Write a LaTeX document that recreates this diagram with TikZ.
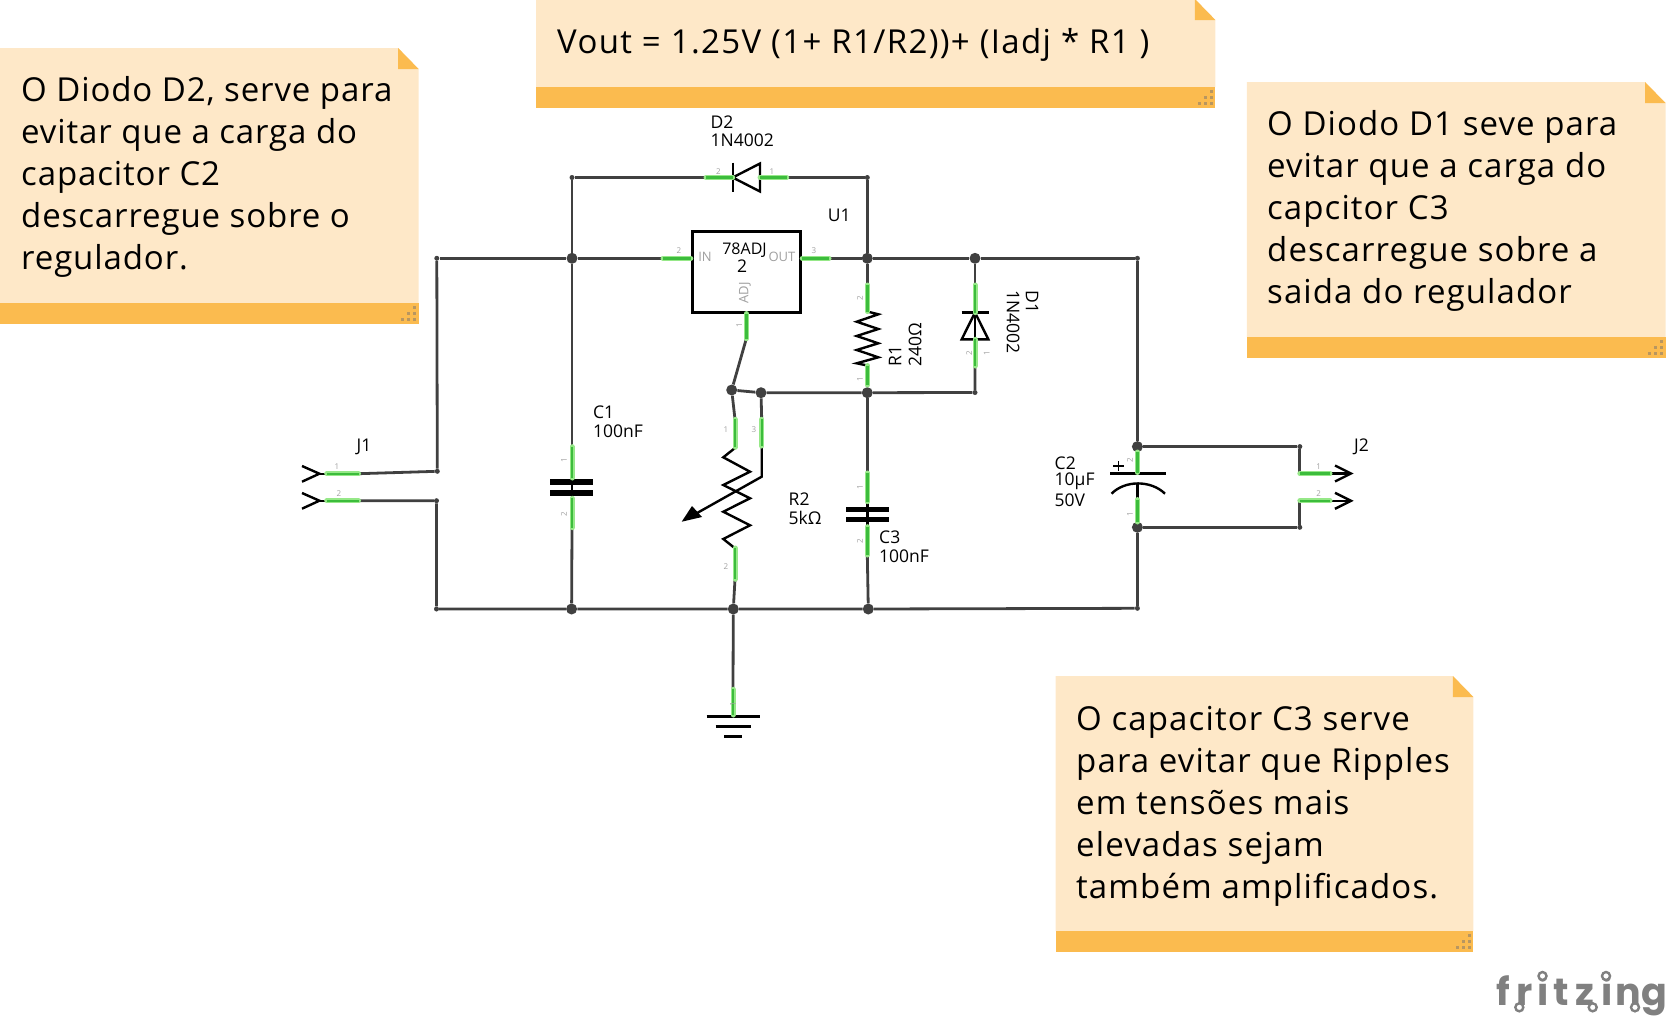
\documentclass[tikz,border=0pt]{standalone}
\usepackage{fontspec}
\setmainfont{Open Sans}
\newfontfamily\logofont{Poppins}
\definecolor{notefill}{HTML}{FEE8C8}
\definecolor{noteband}{HTML}{FBBB4F}
\definecolor{griptone}{HTML}{B89660}
\definecolor{wiretone}{HTML}{404040}
\definecolor{stubtone}{HTML}{3CBC3C}
\definecolor{stubglow}{HTML}{96E888}
\definecolor{pintone}{HTML}{A0A0A0}
\definecolor{logotone}{HTML}{808080}
\tikzset{
    notetext/.style={anchor=north west, inner sep=0pt, align=left, font=\fontsize{33}{42}\selectfont\addfontfeature{LetterSpace=#1}},
    partlabel/.style={anchor=west, inner sep=0pt, font=\fontsize{17.5}{18}\selectfont},
    pinlabel/.style={inner sep=0pt, text=pintone, font=\fontsize{8}{8}\selectfont},
    innerlabel/.style={inner sep=0pt, text=pintone, font=\fontsize{13}{13}\selectfont},
    wire/.style={draw=wiretone, line width=2.8pt},
    mainwire/.style={draw=wiretone, line width=3.4pt},
    stub/.style={draw=stubtone, line width=2.4pt, preaction={draw=stubglow, line width=5pt, line cap=round}},
    symbol/.style={draw=black, line width=2.4pt},
    plate/.style={draw=black, line width=5.4pt},
    junction/.style={circle, fill=wiretone, inner sep=0pt, minimum size=11pt},
    corner/.style={circle, fill=wiretone, inner sep=0pt, minimum size=5pt},
    logotext/.style={anchor=base west, inner sep=0pt, text=logotone, font=\logofont\bfseries\fontsize{38}{38}\selectfont},
    logoring/.style={circle, draw=logotone, fill=white, line width=2.4pt, inner sep=0pt, minimum size=8pt}
}
\newcommand{\stickynote}[5]{% left, top, right, bottom, band top
    \fill[notefill] (#1,#2) -- (#3-20.5,#2) -- (#3,#2+21) -- (#3,#5) -- (#1,#5) -- cycle;
    \fill[noteband] (#1,#5) rectangle (#3,#4);
    \fill[noteband] (#3-20.5,#2) -- (#3,#2+21) -- (#3-20.5,#2+21) -- cycle;
    \foreach \gx/\gy in {0/0,1/0,2/0,0/1,1/1,0/2} {
        \fill[griptone] (#3-5.8-\gx*6,#4-5.9-\gy*6) rectangle ++(3,3);
    }
}
\begin{document}
\begin{tikzpicture}[x=1pt, y=-1pt]
\useasboundingbox (0,0) rectangle (1668,1020);

% Notes
\stickynote{0}{48}{418.6}{323.7}{303}
\stickynote{536}{-1}{1215.4}{108}{87}
\stickynote{1246.8}{82}{1665.5}{357.7}{337}
\stickynote{1055.5}{676}{1473.4}{952}{931}

\node[notetext=2.7] (noteD2) at (21,76) {O Diodo D2, serve para\\evitar que a carga do\\capacitor C2\\descarregue sobre o\\regulador.};
\node[notetext=4.1, anchor=base west] (noteVout) at (557,53.3) {Vout = 1.25V (1+ R1/R2))+ (Iadj * R1 )};
\node[notetext=3.3] (noteD1) at (1267,110) {O Diodo D1 seve para\\evitar que a carga do\\capcitor C3\\descarregue sobre a\\saida do regulador};
\node[notetext=3.4] (noteC3) at (1076,706.5) {O capacitor C3 serve\\para evitar que Ripples\\em tensões mais\\elevadas sejam\\também amplificados.};

% Junctions
\node[junction] (inTop) at (572,258.3) {};
\node[junction] (outTop) at (867.3,258.3) {};
\node[junction] (diodeTop) at (975,258.3) {};
\node[junction] (adjLeft) at (731.7,390) {};
\node[junction] (adjRight) at (761,392.7) {};
\node[junction] (midNode) at (867.3,392.7) {};
\node[junction] (gndA) at (571.6,609) {};
\node[junction] (gndB) at (733.3,609) {};
\node[junction] (gndC) at (868.3,609) {};
\node[junction] (capTop) at (1137.4,446.6) {};
\node[junction] (capBot) at (1137.4,527.3) {};

% Corners
\node[corner] (cornerA) at (436.8,258.3) {};
\node[corner] (cornerB) at (437.3,471.3) {};
\node[corner] (cornerC) at (436.5,500.7) {};
\node[corner] (cornerD) at (436.5,609) {};
\node[corner] (cornerE) at (572,177.5) {};
\node[corner] (cornerF) at (867.3,177.5) {};
\node[corner] (cornerG) at (975,392.5) {};
\node[corner] (cornerH) at (1137.4,258.3) {};
\node[corner] (cornerI) at (1137.4,608.3) {};
\node[corner] (cornerJ) at (1299.8,446.6) {};
\node[corner] (cornerK) at (1299.8,527.3) {};

% Pin ends
\coordinate (j1a) at (358.5,473.7);
\coordinate (j1b) at (358.5,500.7);
\coordinate (j2a) at (1299.8,473.5);
\coordinate (j2b) at (1299.8,500.8);
\coordinate (d2a) at (706,177.5);
\coordinate (d2b) at (786.7,177.5);
\coordinate (u1in) at (663,258.3);
\coordinate (u1out) at (829,258.3);
\coordinate (u1adj) at (746.3,338.7);
\coordinate (r1top) at (867.3,285);
\coordinate (r1bot) at (867.3,365);
\coordinate (d1top) at (975,285);
\coordinate (d1bot) at (975,366);
\coordinate (c1top) at (572,446.7);
\coordinate (c1bot) at (572,527.7);
\coordinate (r2a) at (735,419.3);
\coordinate (r2c) at (761.7,419.3);
\coordinate (r2b) at (735,579.3);
\coordinate (c3top) at (867.3,473);
\coordinate (c3bot) at (867.3,555);
\coordinate (gndPin) at (733,689.3);

% Wires
\draw[mainwire] (cornerA) -- (inTop) -- (u1in);
\draw[mainwire] (u1out) -- (outTop) -- (diodeTop) -- (cornerH);
\draw[wire] (cornerA) -- (cornerB);
\draw[wire] (j1a) -- (cornerB);
\draw[wire] (j1b) -- (cornerC) -- (cornerD) -- (gndA) -- (gndB) -- (gndC) -- (cornerI);
\draw[wire] (inTop) -- (c1top);
\draw[wire] (c1bot) -- (gndA);
\draw[wire] (inTop) -- (cornerE) -- (d2a);
\draw[wire] (d2b) -- (cornerF) -- (outTop) -- (r1top);
\draw[wire] (diodeTop) -- (d1top);
\draw[wire] (u1adj) -- (adjLeft) -- (r2a);
\draw[wire] (adjLeft) -- (adjRight) -- (midNode) -- (cornerG) -- (d1bot);
\draw[wire] (adjRight) -- (r2c);
\draw[wire] (r1bot) -- (midNode) -- (c3top);
\draw[wire] (c3bot) -- (gndC);
\draw[wire] (r2b) -- (gndB) -- (gndPin);
\draw[wire] (cornerH) -- (capTop) -- (cornerJ) -- (j2a);
\draw[wire] (cornerI) -- (capBot) -- (cornerK) -- (j2b);

% Regulator
\draw[symbol, line width=3pt, fill=white] (692.3,231) rectangle (800.7,312);

% J1, J2
\draw[symbol] (302,466) -- (319.4,473.7) -- (302,481.7);
\draw[symbol] (302,493) -- (319.4,500.7) -- (302,508.7);
\draw[symbol] (319.4,473.7) -- (330,473.7);
\draw[symbol] (319.4,500.7) -- (330,500.7);
\draw[symbol] (1335,465.5) -- (1351,473.5) -- (1335,481.5);
\draw[symbol] (1335,492.8) -- (1351,500.8) -- (1335,508.8);
\draw[symbol] (1325,473.5) -- (1351,473.5);
\draw[symbol] (1325,500.8) -- (1351,500.8);

% Diodes
\draw[symbol] (732.7,162.7) -- (732.7,191.7);
\draw[symbol, line join=miter] (732.7,177.5) -- (760,163.5) -- (760,191.5) -- cycle;
\draw[symbol] (961.7,312.5) -- (989.3,312.5);
\draw[symbol, line join=miter] (975,312.5) -- (961.7,339.3) -- (988.3,339.3) -- cycle;
\draw[symbol] (975,312.5) -- (975,339.3);

% R1, R2
\draw[symbol] (867.3,311.5) -- (878.3,314.3) -- (856.7,321.7) -- (878.3,329) -- (856.7,336) -- (878.3,343.3) -- (856.7,350) -- (878.3,357.3) -- (856.7,363.3) -- (867.3,365.5);
\draw[symbol] (735,448) -- (723.3,457.3) -- (750,471.7) -- (723.3,485) -- (750,498.3) -- (723.3,511.7) -- (750,525.3) -- (723.3,539) -- (735,548.3);
\draw[symbol] (761.7,446) -- (761.7,476.7) -- (690,517);
\fill (681.7,521.7) -- (692,506) -- (702,517) -- cycle;

% Capacitors
\draw[plate] (550,482) -- (593,482);
\draw[plate] (550,492.8) -- (593,492.8);
\draw[symbol] (572,478) -- (572,498);
\draw[plate] (846,509.2) -- (889.3,509.2);
\draw[plate] (846,519.5) -- (889.3,519.5);
\draw[symbol] (867.3,501.7) -- (867.3,526.7);
\draw[symbol] (1110,473.5) -- (1166,473.5);
\draw[symbol] (1111.5,493.7) .. controls (1125,480) and (1151,480) .. (1165,493.7);
\draw[symbol] (1137.4,484) -- (1137.4,500);
\draw[symbol, line width=1.5pt] (1113,466) -- (1123.6,466);
\draw[symbol, line width=1.5pt] (1118.3,461) -- (1118.3,471);

% Ground
\draw[symbol, line width=3.2pt] (706.7,716.3) -- (759.5,716.3);
\draw[symbol, line width=3.2pt] (715.5,726.7) -- (750.7,726.7);
\draw[symbol, line width=3.2pt] (724,736.7) -- (742,736.7);

% Green pin stubs
\draw[stub] (326.7,473.7) -- (j1a);
\draw[stub] (326.7,500.7) -- (j1b);
\draw[stub] (d2a) -- (732.7,177.5);
\draw[stub] (760,177.5) -- (d2b);
\draw[stub] (u1in) -- (690.8,258.3);
\draw[stub] (802.2,258.3) -- (u1out);
\draw[stub] (746.3,313.5) -- (u1adj);
\draw[stub] (r1top) -- (867.3,311.5);
\draw[stub] (867.3,365.5) -- (867.3,385);
\draw[stub] (d1top) -- (975,312.7);
\draw[stub] (975,339.3) -- (d1bot);
\draw[stub] (c1top) -- (572,478);
\draw[stub] (572,498.3) -- (c1bot);
\draw[stub] (r2a) -- (735,447.3);
\draw[stub] (r2c) -- (761.7,446);
\draw[stub] (735,548) -- (r2b);
\draw[stub] (c3top) -- (867.3,501.7);
\draw[stub] (867.3,526.7) -- (c3bot);
\draw[stub] (gndPin) -- (733,715);
\draw[stub] (1137.4,452) -- (1137.4,472.5);
\draw[stub] (1137.4,499.6) -- (1137.4,522);
\draw[stub] (j2a) -- (1330,473.5);
\draw[stub] (j2b) -- (1330,500.8);

% Labels
\node[partlabel] (lblD2) at (710.5,121.7) {D2};
\node[partlabel] (lblD2v) at (710.5,140.7) {1N4002};
\node[partlabel, anchor=center] (lblU1) at (839.3,215.5) {U1};
\node[partlabel, anchor=center, font=\fontsize{16}{18}\selectfont] (lblU1a) at (744.5,250) {78ADJ};
\node[partlabel, anchor=center] (lblU1b) at (742,266.5) {2};
\node[innerlabel] (lblIn) at (705,256.5) {IN};
\node[innerlabel] (lblOut) at (782,256.5) {OUT};
\node[innerlabel, rotate=90] (lblAdj) at (745,292.7) {ADJ};
\node[partlabel, rotate=90] (lblR1) at (895,366.7) {R1};
\node[partlabel, rotate=90] (lblR1v) at (915,366.7) {240Ω};
\node[partlabel, rotate=-90] (lblD1) at (1032,290.5) {D1};
\node[partlabel, rotate=-90] (lblD1v) at (1013,290.5) {1N4002};
\node[partlabel, anchor=center] (lblJ1) at (364,447) {J1};
\node[partlabel, anchor=center] (lblJ2) at (1361.5,447) {J2};
\node[partlabel] (lblC1) at (593,412.5) {C1};
\node[partlabel] (lblC1v) at (593,431) {100nF};
\node[partlabel] (lblR2) at (788.5,499.5) {R2};
\node[partlabel] (lblR2v) at (788.5,518) {5kΩ};
\node[partlabel] (lblC3) at (879,537.5) {C3};
\node[partlabel] (lblC3v) at (879,556) {100nF};
\node[partlabel] (lblC2) at (1054.5,463) {C2};
\node[partlabel] (lblC2v) at (1054.5,481.5) {10µF};
\node[partlabel] (lblC2w) at (1054.5,500) {50V};

% Pin numbers
\foreach \px/\py/\pt in {337/466.7/1, 339/494/2, 718.3/171.7/2, 772/171.7/1, 679/250.7/2, 814/250.7/3, 726/430/1, 754/430/3, 726/567/2, 1318.6/466.4/1, 1318.6/493.7/2} {
    \node[pinlabel] at (\px,\py) {\pt};
}
\foreach \px/\py/\pt in {739.3/325.7/1, 860/298/2, 860/379.3/1, 969.3/353/2, 986.7/353/1, 564/460.7/1, 564/514/2, 860/487/1, 860/541/2, 733/704/1, 1130/460/2, 1130/513.8/1} {
    \node[pinlabel, rotate=90] at (\px,\py) {\pt};
}

% Logo
\node[logotext] (logo) at (1493,1005) {\makebox[20pt]{f}\makebox[22pt]{r}\makebox[16pt]{i}\makebox[20pt]{t}\makebox[28pt]{z}\makebox[16pt]{i}\makebox[26pt]{n}\makebox[26pt]{g}};
\foreach \rx/\ry in {1519.3/1007.3, 1542.5/976, 1592.7/1007.3, 1606/976, 1635/1007.3} {
    \node[logoring] at (\rx,\ry) {};
}

\end{tikzpicture}
\end{document}
